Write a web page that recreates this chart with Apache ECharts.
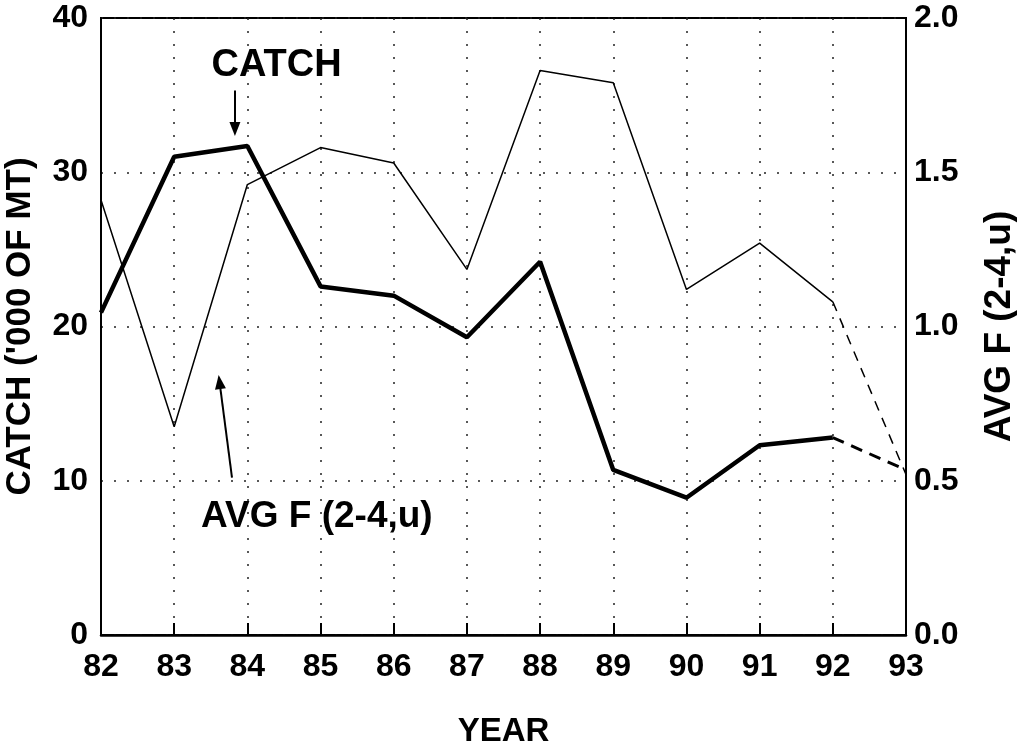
<!DOCTYPE html>
<html>
<head>
<meta charset="utf-8">
<script src="https://cdn.jsdelivr.net/npm/echarts@6/dist/echarts.min.js"></script>
<style>
html,body{margin:0;padding:0;background:#fff;}
#chart{width:1017px;height:746px;}
</style>
</head>
<body>
<div id="chart"></div>
<script>
// ---- data ----
const years = [82, 83, 84, 85, 86, 87, 88, 89, 90, 91, 92];
const catchVals = [20.9, 31.0, 31.7, 22.6, 22.0, 19.3, 24.2, 10.7, 8.9, 12.3, 12.8];
const avgF = [1.41, 0.675, 1.46, 1.58, 1.53, 1.185, 1.83, 1.79, 1.12, 1.27, 1.08];
const projYears = [92, 93];
const catchProj = [12.8, 10.7];
const avgFProj = [1.08, 0.52];
const leftTicks = [0, 10, 20, 30, 40];
const rightTicks = [0.0, 0.5, 1.0, 1.5, 2.0];

const FONT = '"Liberation Sans", Arial, sans-serif';
const pair = (xs, ys) => xs.map((x, i) => [x, ys[i]]);

const chart = echarts.init(document.getElementById('chart'));
const labelStyle = {color: '#000', fontFamily: FONT, fontWeight: 'bold', fontSize: 32};
const dotted = {color: '#222', width: 1.5, type: [2, 11]};

chart.setOption({
  backgroundColor: '#fff',
  animation: false,
  grid: {left: 101, right: 111, top: 18, bottom: 111, containLabel: false, outerBoundsMode: 'none',
         show: true, borderColor: '#000', borderWidth: 2, backgroundColor: 'transparent'},
  xAxis: {
    type: 'value', min: 82, max: 93, interval: 1,
    name: 'YEAR', nameLocation: 'middle', nameGap: 80,
    nameTextStyle: {color: '#000', fontFamily: FONT, fontWeight: 'bold', fontSize: 33},
    axisLine: {show: true, lineStyle: {color: '#000', width: 2.5}},
    axisTick: {show: true, inside: true, length: 12, lineStyle: {color: '#000', width: 2}},
    axisLabel: Object.assign({margin: 16}, labelStyle),
    splitLine: {show: true, lineStyle: dotted}
  },
  yAxis: [{
    type: 'value', min: 0, max: 40, interval: 10, position: 'left',
    name: "CATCH ('000 OF MT)", nameLocation: 'middle', nameGap: 63, nameRotate: 90,
    nameTextStyle: {color: '#000', fontFamily: FONT, fontWeight: 'bold', fontSize: 35},
    axisLine: {show: true, lineStyle: {color: '#000', width: 2}},
    axisTick: {show: false},
    axisLabel: Object.assign({margin: 13, formatter: v => leftTicks.includes(v) ? String(v) : ''}, labelStyle),
    splitLine: {show: true, lineStyle: dotted}
  }, {
    type: 'value', min: 0, max: 2, interval: 0.5, position: 'right',
    name: 'AVG F (2-4,u)', nameLocation: 'middle', nameGap: 75, nameRotate: 90,
    nameTextStyle: {color: '#000', fontFamily: FONT, fontWeight: 'bold', fontSize: 37},
    axisLine: {show: true, lineStyle: {color: '#000', width: 2}},
    axisTick: {show: false},
    axisLabel: Object.assign({margin: 8, formatter: v => rightTicks.includes(v) ? v.toFixed(1) : ''}, labelStyle),
    splitLine: {show: false}
  }],
  series: [
    {
      name: 'CATCH', type: 'line', yAxisIndex: 0, data: pair(years, catchVals),
      showSymbol: false, symbol: 'none',
      lineStyle: {color: '#000', width: 4.5},
      markLine: {
        silent: true, symbol: ['none', 'triangle'], symbolSize: [11, 14],
        lineStyle: {color: '#000', width: 2, type: 'solid'},
        label: {show: false},
        data: [
          [{coord: [83.83, 35.3]}, {coord: [83.83, 32.8]}],
          [{coord: [83.79, 10.2]}, {coord: [83.62, 16.4]}]
        ]
      },
      markPoint: {
        silent: true, symbol: 'rect', symbolSize: 0,
        label: {show: true, color: '#000', fontFamily: FONT, fontWeight: 'bold', fontSize: 38, position: 'inside'},
        data: [
          {coord: [84.4, 36.9], value: 'CATCH', label: {formatter: 'CATCH'}},
          {coord: [84.95, 7.66], value: 'AVG F', label: {formatter: 'AVG F (2-4,u)', fontSize: 37}}
        ]
      }
    },
    {
      name: 'CATCH proj', type: 'line', yAxisIndex: 0, data: pair(projYears, catchProj),
      showSymbol: false, symbol: 'none',
      lineStyle: {color: '#000', width: 3, type: [12, 8]}
    },
    {
      name: 'AVG F', type: 'line', yAxisIndex: 1, data: pair(years, avgF),
      showSymbol: false, symbol: 'none',
      lineStyle: {color: '#000', width: 1.5}
    },
    {
      name: 'AVG F proj', type: 'line', yAxisIndex: 1, data: pair(projYears, avgFProj),
      showSymbol: false, symbol: 'none',
      lineStyle: {color: '#000', width: 1.5, type: [10, 8]}
    }
  ]
});
</script>
</body>
</html>
